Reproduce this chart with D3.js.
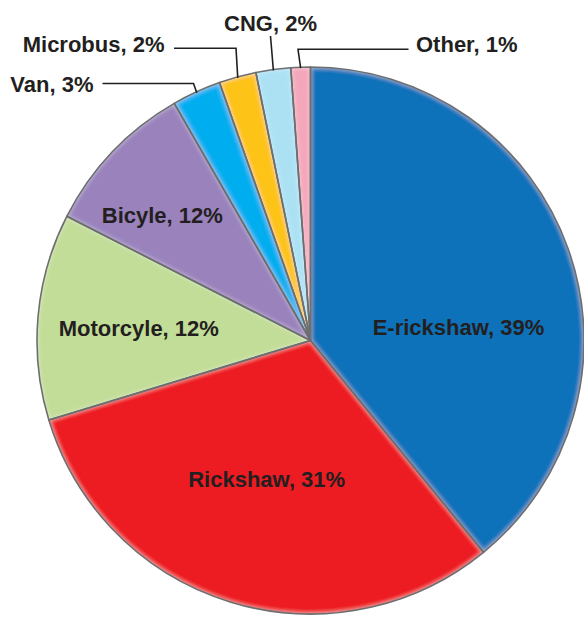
<!DOCTYPE html>
<html>
<head>
<meta charset="utf-8">
<script src="https://cdn.jsdelivr.net/npm/d3@7"></script>
<style>
  html, body { margin: 0; padding: 0; background: #fff; }
  svg { display: block; }
</style>
</head>
<body>
<div id="chart"></div>
<script>
const categories = ['E-rickshaw', 'Rickshaw', 'Motorcyle', 'Bicyle', 'Van', 'Microbus', 'CNG', 'Other'];
const shares = [39.1, 31.2, 12.2, 9.2, 2.9, 2.2, 2.05, 1.15];
const labelPct = ['39%', '31%', '12%', '12%', '3%', '2%', '2%', '1%'];
const colors = ['#0b72b9', '#ed1c24', '#c2dd98', '#9a83bd', '#00aeef', '#fdc317', '#ace1f4', '#f4a7bb'];

const W = 584, H = 617;
const cx = 310.5, cy = 340.5, R = 273.5;
const FONT = '"Liberation Sans", Arial, Helvetica, sans-serif';
const INK = '#231f20';

// label placement (layout only)
const inside = {
  'E-rickshaw': [458.5, 335],
  'Rickshaw': [266.7, 486.7],
  'Motorcyle': [138.8, 336],
  'Bicyle': [162.3, 222.5],
};
// outside labels: elbow point, line end, text anchor
const outside = {
  'Van': { elbow: [193.5, 83.5], end: [102.5, 83.5], text: [93.5, 92.3], anchor: 'end' },
  'Microbus': { elbow: [236, 48.3], end: [174, 48.3], text: [164.5, 52.3], anchor: 'end' },
  'CNG': { elbow: [270.5, 36], end: [270.5, 36], text: [270.5, 30.7], anchor: 'middle' },
  'Other': { elbow: [298, 49.3], end: [408.5, 49.3], text: [416, 52.3], anchor: 'start' },
};

const svg = d3.select('#chart').append('svg').attr('width', W).attr('height', H);

// inner glow like the original's soft bevel
const f = svg.append('defs').append('filter').attr('id', 'glow')
  .attr('x', '-5%').attr('y', '-5%').attr('width', '110%').attr('height', '110%');
f.append('feGaussianBlur').attr('in', 'SourceAlpha').attr('stdDeviation', 2.5).attr('result', 'blur');
f.append('feComposite').attr('in', 'SourceAlpha').attr('in2', 'blur').attr('operator', 'out').attr('result', 'edge');
f.append('feFlood').attr('flood-color', '#fff').attr('flood-opacity', 0.55).attr('result', 'white');
f.append('feComposite').attr('in', 'white').attr('in2', 'edge').attr('operator', 'in').attr('result', 'g');
const mg = f.append('feMerge');
mg.append('feMergeNode').attr('in', 'SourceGraphic');
mg.append('feMergeNode').attr('in', 'g');

const rows = categories.map((c, i) => ({ cat: c, v: shares[i], pct: labelPct[i], col: colors[i] }));
const pie = d3.pie().value((d) => d.v).sort(null);
const arcs = pie(rows);
const arc = d3.arc().innerRadius(0).outerRadius(R);

const g = svg.append('g').attr('transform', `translate(${cx},${cy})`);
g.selectAll('path.fill').data(arcs).join('path').attr('class', 'fill')
  .attr('d', arc).attr('fill', (d) => d.data.col).attr('filter', 'url(#glow)');
g.selectAll('path.edge').data(arcs).join('path').attr('class', 'edge')
  .attr('d', arc).attr('fill', 'none').attr('stroke', '#6d6e70').attr('stroke-width', 1.6)
  .attr('stroke-linejoin', 'round');

// leader lines from the middle of each small slice's rim
const lead = arcs.filter((d) => outside[d.data.cat]);
svg.append('g').selectAll('path').data(lead).join('path')
  .attr('d', (d) => {
    const a = (d.startAngle + d.endAngle) / 2;
    const p = [cx + Math.sin(a) * (R - 1), cy - Math.cos(a) * (R - 1)];
    const o = outside[d.data.cat];
    return d3.line()([p, o.elbow, o.end]);
  })
  .attr('fill', 'none').attr('stroke', INK).attr('stroke-width', 1.6);

svg.append('g').selectAll('text').data(lead).join('text')
  .attr('x', (d) => outside[d.data.cat].text[0]).attr('y', (d) => outside[d.data.cat].text[1])
  .attr('text-anchor', (d) => outside[d.data.cat].anchor)
  .attr('font-family', FONT).attr('font-weight', 700).attr('font-size', 22).attr('fill', INK)
  .text((d) => `${d.data.cat}, ${d.data.pct}`);

svg.append('g').selectAll('text').data(arcs.filter((d) => inside[d.data.cat])).join('text')
  .attr('x', (d) => inside[d.data.cat][0]).attr('y', (d) => inside[d.data.cat][1])
  .attr('text-anchor', 'middle')
  .attr('font-family', FONT).attr('font-weight', 700).attr('font-size', 22).attr('fill', INK)
  .text((d) => `${d.data.cat}, ${d.data.pct}`);
</script>
</body>
</html>
